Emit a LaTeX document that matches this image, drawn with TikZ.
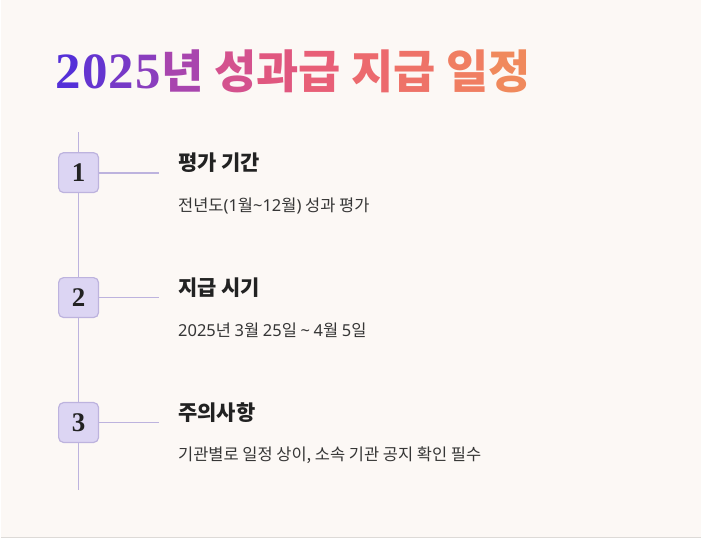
\documentclass[tikz,border=0pt]{standalone}
\usepackage{fontspec}
\setmainfont{Noto Sans CJK KR}
\newfontfamily\numfont{Liberation Serif}
\newfontfamily\latinfont{Noto Sans}
\usetikzlibrary{positioning}

\definecolor{bgcol}{HTML}{FCF8F5}
\definecolor{edgecol}{HTML}{DDDAD7}
\definecolor{boxfill}{HTML}{DCD5F3}
\definecolor{boxline}{HTML}{BDB3DE}
\definecolor{numtext}{HTML}{222222}
\definecolor{headtext}{HTML}{222222}
\definecolor{subtext}{HTML}{363636}
% title gradient, left to right
\definecolor{ga}{HTML}{5530D8}
\definecolor{gb}{HTML}{6535D0}
\definecolor{gc}{HTML}{7739C7}
\definecolor{gd}{HTML}{8A3EBE}
\definecolor{ge}{HTML}{A845AE}
\definecolor{gf}{HTML}{D4528E}
\definecolor{gg}{HTML}{E0577F}
\definecolor{gh}{HTML}{E85F77}
\definecolor{gi}{HTML}{EC6A6E}
\definecolor{gj}{HTML}{EE7268}
\definecolor{gk}{HTML}{F07E62}
\definecolor{gl}{HTML}{F0895C}

\newcommand{\gradtitle}{%
{\numfont\fontsize{51}{54}\selectfont\color{ga}2\kern1pt\color{gb}0\kern1pt\color{gc}2\kern1pt\color{gd}5\kern1pt}%
\color{ge}년 \color{gf}성\color{gg}과\color{gh}급 \color{gi}지\color{gj}급 \color{gk}일\color{gl}정}
\newcommand{\lt}[1]{{\latinfont #1}}

\begin{document}
\begin{tikzpicture}[x=1pt, y=-1pt]
			\tikzstyle{numbox} = [draw=boxline, fill=boxfill, line width=1.2pt, rounded corners=5pt, minimum width=40pt, minimum height=40pt, inner sep=0pt, text=numtext, font=\numfont\bfseries\fontsize{27}{27}\selectfont]
			\tikzstyle{head} = [inner sep=0pt, anchor=west, text=headtext, font=\bfseries\fontsize{21}{24}\selectfont]
			\tikzstyle{sub} = [inner sep=0pt, anchor=west, text=subtext, font=\fontsize{16.5}{19}\selectfont]
			\tikzstyle{link} = [draw=boxline, line width=1.8pt]

			% page
			\fill[bgcol] (0,0) rectangle (702,539);
			\draw[edgecol, line width=1.5pt] (0,538.5) -- (702,538.5);

			\node[inner sep=0pt, anchor=base west, font=\bfseries\fontsize{46}{50}\selectfont] (title) at (55,89) {\gradtitle};

			% steps
			\node[numbox] (b1) at (78,173) {1};
			\node[numbox, below=84pt of b1] (b2) {2};
			\node[numbox, below=84pt of b2] (b3) {3};

			\node[head, right=79pt of b1, yshift=10pt] (h1) {평가 기간};
			\node[head, right=79pt of b2, yshift=10pt] (h2) {지급 시기};
			\node[head, right=79pt of b3, yshift=10pt] (h3) {주의사항};

			\node[sub] (s1) at ([yshift=-43pt]h1.west) {전년도\lt{(1}월\lt{\textasciitilde 12}월\lt{)} 성과 평가};
			\node[sub] (s2) at ([yshift=-43pt]h2.west) {\lt{2025}년 \lt{3}월 \lt{25}일 \lt{\textasciitilde} \lt{4}월 \lt{5}일};
			\node[sub] (s3) at ([yshift=-43pt]h3.west) {기관별로 일정 상이, 소속 기관 공지 확인 필수};

			\coordinate[above=20pt of b1] (top);
			\coordinate[below=47pt of b3] (bot);
			\coordinate[right=60pt of b1] (e1);
			\coordinate[right=60pt of b2] (e2);
			\coordinate[right=60pt of b3] (e3);

			\path[link]
			(top) edge (b1)
			(b1) edge (b2)
			(b2) edge (b3)
			(b3) edge (bot)
			(b1) edge (e1)
			(b2) edge (e2)
			(b3) edge (e3)
			;
\end{tikzpicture}
\end{document}
